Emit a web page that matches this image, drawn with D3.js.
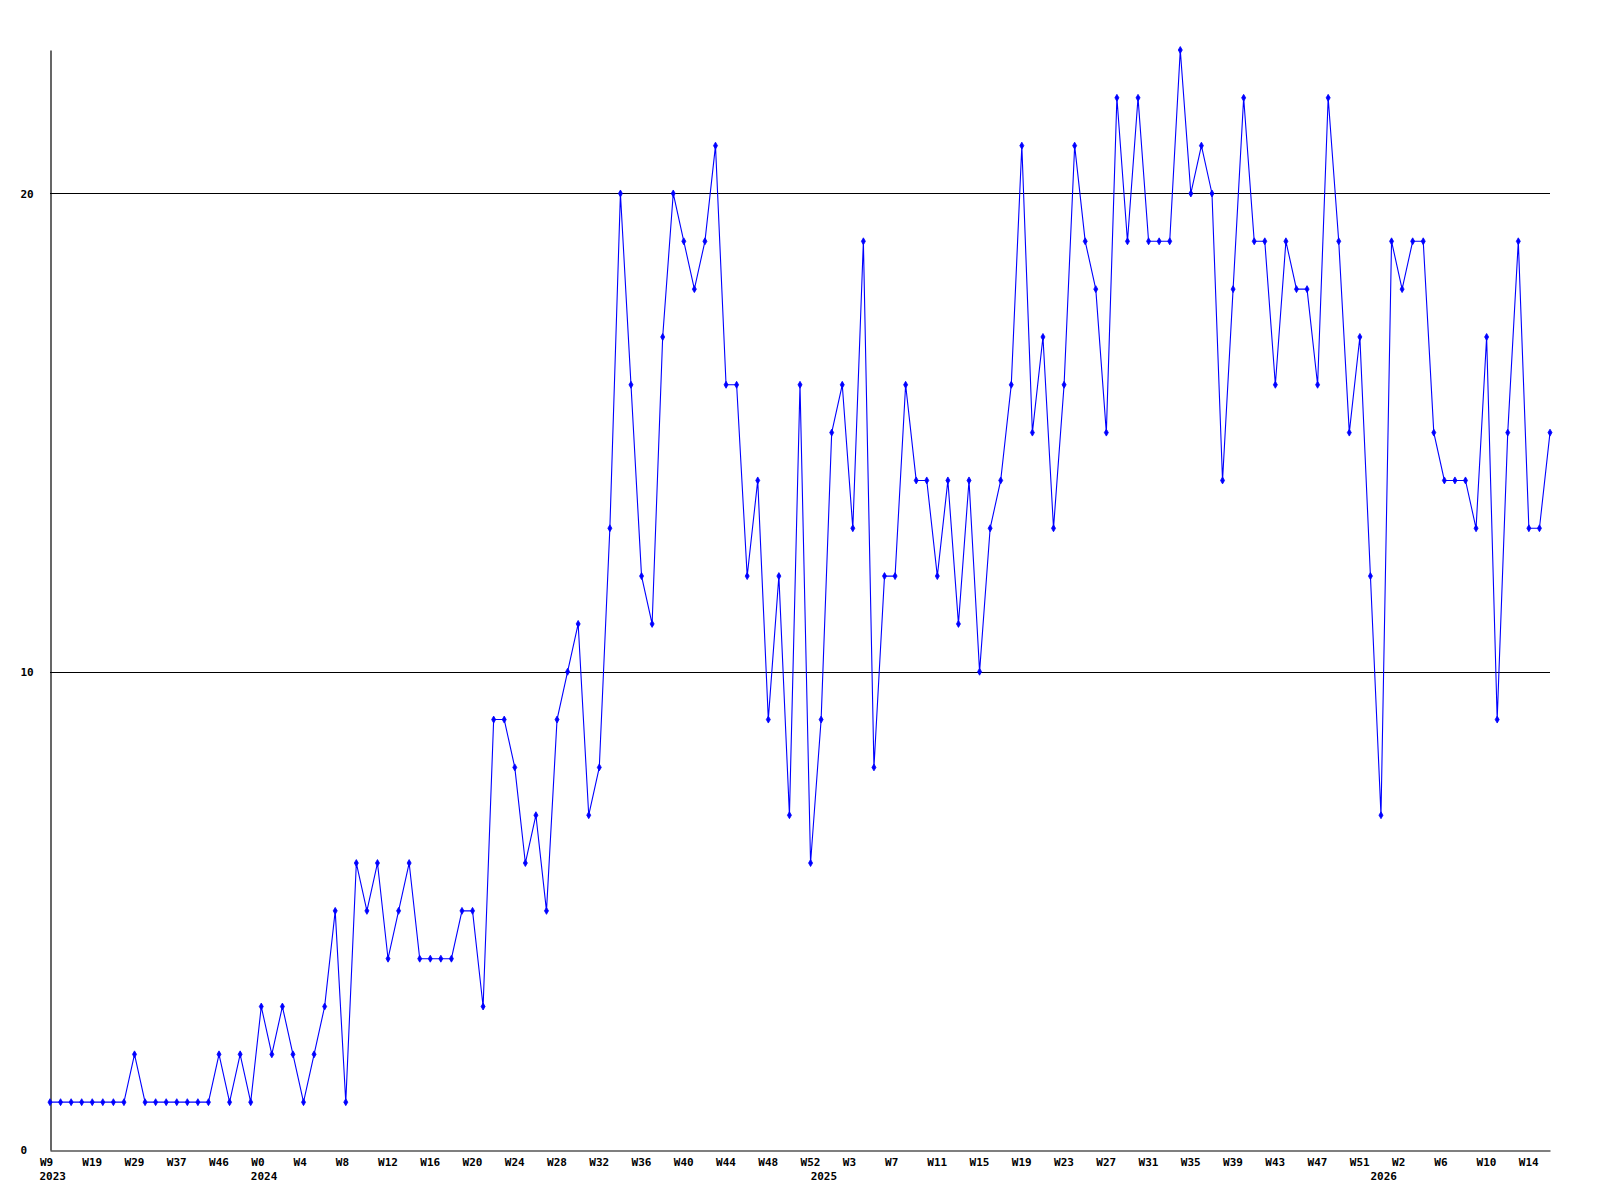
<!DOCTYPE html>
<html>
<head>
<meta charset="utf-8">
<script src="https://cdn.jsdelivr.net/npm/d3@7"></script>
<style>
  body { margin: 0; background: #fff; }
  svg { display: block; }
  text { font-family: "DejaVu Sans Mono", monospace; font-weight: bold; font-size: 11px; fill: #000; }
</style>
</head>
<body>
<div id="chart"></div>
<script>
// weekly counts, one per point (index 0 = W9 2023, last = W16 2026)
const values = [
  1,1,1,1,1,1,1,1,2,1,
  1,1,1,1,1,1,2,1,2,1,
  3,2,3,2,1,2,3,5,1,6,
  5,6,4,5,6,4,4,4,4,5,
  5,3,9,9,8,6,7,5,9,10,
  11,7,8,13,20,16,12,11,17,20,
  19,18,19,21,16,16,12,14,9,12,
  7,16,6,9,15,16,13,19,8,12,
  12,16,14,14,12,14,11,14,10,13,
  14,16,21,15,17,13,16,21,19,18,
  15,22,19,22,19,19,19,23,20,21,
  20,14,18,22,19,19,16,19,18,18,
  16,22,19,15,17,12,7,19,18,19,
  19,15,14,14,14,13,17,9,15,19,
  13,13,15
];

// week tick labels, every 4th point
const weekLabels = ["W9","W19","W29","W37","W46","W0","W4","W8","W12","W16","W20","W24",
  "W28","W32","W36","W40","W44","W48","W52","W3","W7","W11","W15","W19","W23","W27",
  "W31","W35","W39","W43","W47","W51","W2","W6","W10","W14"];
const weekTickIdx = weekLabels.map((d, i) => i * 4);

// year labels, placed at first week of each year
const yearLabels = ["2023","2024","2025","2026"];
const yearTickIdx = [0, 20, 73, 126];

const yTicks = [0, 10, 20];
const yMax = 23;

const width = 1600, height = 1200;
const margin = { top: 50, right: 50, bottom: 50, left: 50 };
const labelShift = -10.5; // labels start a bit left of their tick

const svg = d3.select("#chart").append("svg")
  .attr("width", width)
  .attr("height", height);

const x = d3.scaleLinear()
  .domain([0, values.length - 1])
  .range([margin.left, width - margin.right]);

const y = d3.scaleLinear()
  .domain([0, yMax])
  .range([height - margin.bottom, margin.top]);

// horizontal grid lines
svg.append("g")
  .selectAll("line")
  .data(yTicks.filter(d => d > 0))
  .enter().append("line")
  .attr("x1", x.range()[0])
  .attr("x2", x.range()[1])
  .attr("y1", d => Math.round(y(d)) + 0.5)
  .attr("y2", d => Math.round(y(d)) + 0.5)
  .attr("stroke", "#000")
  .attr("stroke-width", 1);

// y axis
const yAxis = d3.axisLeft(y).tickValues(yTicks).tickSize(0).tickFormat(d3.format("d"));
const gy = svg.append("g")
  .attr("transform", `translate(${margin.left + 0.5},0)`)
  .call(yAxis);
gy.select(".domain").attr("stroke", "#000").attr("stroke-width", 1.2);
gy.selectAll("text")
  .attr("text-anchor", "start")
  .attr("x", 20 - margin.left)
  .attr("dy", "0.35em");

// x axis (week labels)
const xAxis = d3.axisBottom(x).tickValues(weekTickIdx).tickSize(0)
  .tickFormat((d, i) => weekLabels[i]);
const gx = svg.append("g")
  .attr("transform", `translate(0,${height - margin.bottom + 0.5})`)
  .call(xAxis);
gx.select(".domain").attr("stroke", "#000").attr("stroke-width", 1.2);
gx.selectAll("text")
  .attr("text-anchor", "start")
  .attr("x", labelShift)
  .attr("y", 15)
  .attr("dy", 0);

// year labels
svg.append("g")
  .selectAll("text")
  .data(yearLabels)
  .enter().append("text")
  .attr("x", (d, i) => x(yearTickIdx[i]) + labelShift)
  .attr("y", height - margin.bottom + 30)
  .attr("text-anchor", "start")
  .text(d => d);

// line
const line = d3.line()
  .x((d, i) => x(i))
  .y(d => y(d));

svg.append("path")
  .datum(values)
  .attr("fill", "none")
  .attr("stroke", "#0000ff")
  .attr("stroke-width", 1.1)
  .attr("d", line);

// markers
const marker = d3.symbol().type(d3.symbolDiamond).size(14);
svg.append("g")
  .selectAll("path")
  .data(values)
  .enter().append("path")
  .attr("transform", (d, i) => `translate(${x(i)},${y(d)})`)
  .attr("d", marker)
  .attr("fill", "#0000ff")
  .attr("stroke", "#0000ff")
  .attr("stroke-width", 0.8);
</script>
</body>
</html>
